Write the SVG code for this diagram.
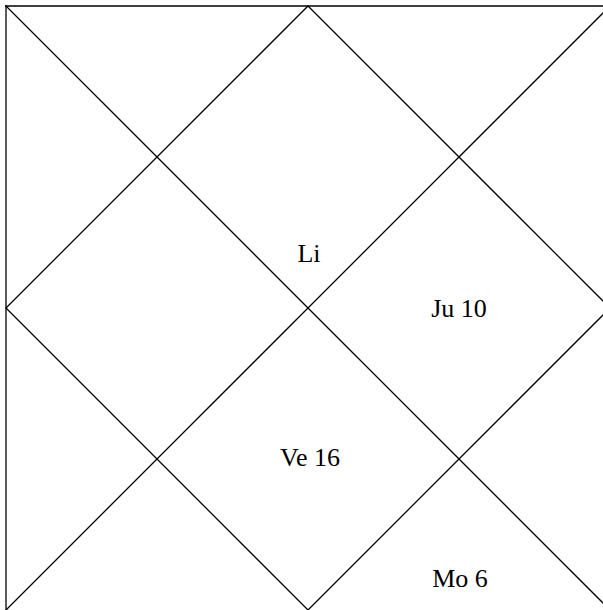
<svg xmlns="http://www.w3.org/2000/svg" width="603" height="610" viewBox="0 0 603 610">
<style>
.l{stroke:#000;stroke-width:1.3;fill:none}
.t{font-family:"Liberation Serif","Times New Roman",serif;font-size:26px;fill:#000;text-anchor:middle}
</style>
<rect width="603" height="610" fill="#fff"/>
<g id="connectors">
<line class="l" x1="5" y1="6" x2="603" y2="6"/>
<line class="l" x1="6" y1="5" x2="6" y2="610"/>
<line class="l" x1="6" y1="6" x2="610" y2="610"/>
<line class="l" x1="610" y1="6" x2="6" y2="610"/>
<polygon class="l" points="308,6 610,308 308,610 6,308"/>
</g>
<g id="li"><text class="t" x="309" y="262">Li</text></g>
<g id="ju"><text class="t" x="459" y="317">Ju 10</text></g>
<g id="ve"><text class="t" x="310" y="466">Ve 16</text></g>
<g id="mo"><text class="t" x="460" y="587">Mo 6</text></g>
</svg>
